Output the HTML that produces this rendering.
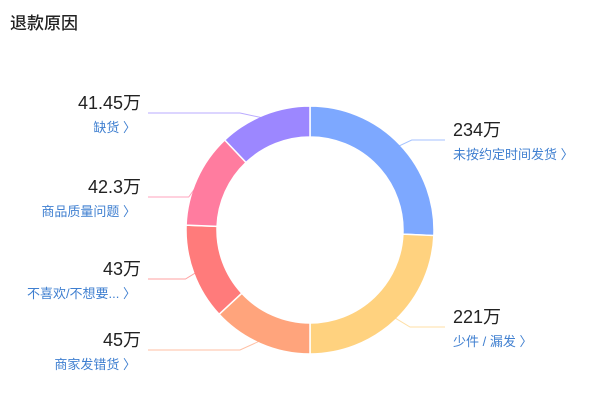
<!DOCTYPE html>
<html><head><meta charset="utf-8">
<style>
body{margin:0;width:608px;height:400px;background:#fff;overflow:hidden;font-family:"Liberation Sans","Noto Sans CJK SC",sans-serif;}
.title{position:absolute;left:10px;top:9px;font-size:17px;color:#222;font-weight:500;}
svg{position:absolute;left:0;top:0;}
</style></head><body>
<div class="title">退款原因</div>
<svg id="chart" width="608" height="400"></svg>
<script>
const categories=["未按约定时间发货","少件 / 漏发","商家发错货","不喜欢/不想要...","商品质量问题","缺货"];
const values=[234,221,45,43,42.3,41.45];
const valueLabels=["234万","221万","45万","43万","42.3万","41.45万"];
const colors=["#7DA8FF","#FFD27F","#FFA47C","#FF7B7B","#FF7C9F","#9C87FF"];
const NS="http://www.w3.org/2000/svg";
const svg=document.getElementById('chart');
const cx=310,cy=230,R=124,r=93;
// angle scale: two large series share right half, the rest share left half
function angles(){
  const a=[];const big=values[0]+values[1];let small=0;for(let i=2;i<values.length;i++)small+=values[i];
  let cur=0;
  for(let i=0;i<values.length;i++){const span=i<2?values[i]/big*Math.PI:values[i]/small*Math.PI;a.push([cur,cur+span]);cur+=span;}
  return a;
}
function pt(rad,ang){return [cx+rad*Math.sin(ang),cy-rad*Math.cos(ang)];}
const ang=angles();
// label slots (layout)
const slots=[{side:1,y:140},{side:1,y:327},{side:-1,y:350},{side:-1,y:279},{side:-1,y:197},{side:-1,y:113}];
ang.forEach((a,i)=>{
  const [s,e]=a;const large=e-s>Math.PI?1:0;
  const p1=pt(R,s),p2=pt(R,e),p3=pt(r,e),p4=pt(r,s);
  const path=document.createElementNS(NS,'path');
  path.setAttribute('d',`M${p1}A${R},${R} 0 ${large} 1 ${p2}L${p3}A${r},${r} 0 ${large} 0 ${p4}Z`);
  path.setAttribute('fill',colors[i]);path.setAttribute('stroke','#fff');path.setAttribute('stroke-width','1.5');
  
  
  svg.appendChild(path);
  const mid=(s+e)/2;const m=pt(R-4,mid);const sl=slots[i];
  const ex=sl.side>0?433:148;const kx=sl.side>0?428:(m[0]-15);
  const line=document.createElementNS(NS,'polyline');
  const bx=sl.side>0?Math.max(m[0]+15,410):Math.min(m[0]-12,240);
  line.setAttribute('points',`${m[0]},${m[1]} ${bx},${sl.y} ${sl.side>0?445:148},${sl.y}`);
  line.setAttribute('fill','none');line.setAttribute('stroke',colors[i]);line.setAttribute('stroke-width','1');line.setAttribute('opacity','0.7');
  
  
  svg.appendChild(line);
  const t1=document.createElementNS(NS,'text');
  const tx=sl.side>0?453:141;const anchor=sl.side>0?'start':'end';
  t1.setAttribute('x',tx);t1.setAttribute('y',sl.y-4);t1.setAttribute('text-anchor',anchor);
  t1.setAttribute('font-size','18');t1.setAttribute('fill','#222');
  t1.textContent=valueLabels[i];
  
  
  svg.appendChild(t1);
  const t2=document.createElementNS(NS,'text');
  t2.setAttribute('x',sl.side>0?453:136);t2.setAttribute('y',sl.y+19);t2.setAttribute('text-anchor',anchor);
  t2.setAttribute('font-size','13');t2.setAttribute('fill','#3F7FD0');
  t2.textContent=categories[i]+'  〉';
  
  
  svg.appendChild(t2);
});
</script>
</body></html>
